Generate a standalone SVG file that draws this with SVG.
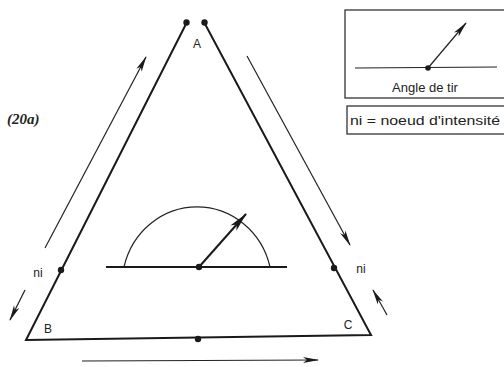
<svg xmlns="http://www.w3.org/2000/svg" width="504" height="367" viewBox="0 0 504 367">
<style>
.ln{stroke:#1a1a1a;stroke-width:2;fill:none}
.th{stroke:#222;stroke-width:1.2;fill:none}
.ar{stroke:#222;stroke-width:1.2;fill:none;marker-end:url(#ah)}
.dot{fill:#1a1a1a}
.t{font-family:"Liberation Sans",Arial,sans-serif;font-size:13px;fill:#222}
.lb{font-family:"Liberation Sans",Arial,sans-serif;font-size:12px;fill:#222}
</style>
<defs>
<marker id="ah" viewBox="0 0 16 8" refX="15" refY="4" markerWidth="16" markerHeight="8" markerUnits="userSpaceOnUse" orient="auto">
<path d="M0,1 L16,4 L0,7 L4,4 Z" fill="#1a1a1a"/>
</marker>
<marker id="ah2" viewBox="0 0 20 10" refX="19" refY="5" markerWidth="20" markerHeight="10" markerUnits="userSpaceOnUse" orient="auto">
<path d="M0,1 L20,5 L0,9 L5,5 Z" fill="#1a1a1a"/>
</marker>
</defs>
<text x="7" y="124" style="font-family:'Liberation Serif',serif;font-style:italic;font-weight:bold;font-size:15px" fill="#222">(20a)</text>
<g id="triangle">
<path class="ln" d="M186.5,23 L26,340 L371,335 L204.5,23"/>
</g>
<g id="nodeA">
<circle class="dot" cx="186.5" cy="22.5" r="3.2"/>
<circle class="dot" cx="204.5" cy="22.5" r="3.2"/>
<text class="lb" x="197" y="48" text-anchor="middle">A</text>
</g>
<g id="nodeB"><text class="lb" x="48" y="333" text-anchor="middle">B</text></g>
<g id="nodeC"><text class="lb" x="348" y="329" text-anchor="middle">C</text></g>
<g id="ni-left">
<circle class="dot" cx="61" cy="270" r="3.2"/>
<text class="lb" x="38" y="277" text-anchor="middle">ni</text>
</g>
<g id="ni-right">
<circle class="dot" cx="334" cy="268" r="3.2"/>
<text class="lb" x="361" y="273" text-anchor="middle">ni</text>
</g>
<g id="bottom-node"><circle class="dot" cx="198" cy="339" r="3.2"/></g>
<g id="angle">
<path class="th" d="M124,267 A75,78 0 0 1 270,267"/>
<line class="ln" x1="106" y1="267" x2="287" y2="267"/>
<line class="ln" x1="199" y1="267" x2="246" y2="214" marker-end="url(#ah2)"/>
<circle class="dot" cx="199" cy="267" r="3.2"/>
</g>
<g id="connectors">
<line class="ar" x1="45" y1="248" x2="146" y2="57"/>
<line class="ar" x1="25" y1="290" x2="10" y2="320"/>
<line class="ar" x1="247" y1="56" x2="350" y2="245"/>
<line class="ar" x1="387" y1="315" x2="373" y2="290"/>
<line class="ar" x1="82" y1="361" x2="318" y2="360"/>
</g>
<g id="legend">
<rect x="345" y="10" width="162" height="88" class="th" stroke-width="1.5"/>
<line class="th" x1="355" y1="68" x2="497" y2="67"/>
<line class="th" x1="428" y1="68" x2="466" y2="23" stroke-width="1.6" marker-end="url(#ah)"/>
<circle class="dot" cx="428" cy="68" r="2.8"/>
<text class="t" x="425" y="92" text-anchor="middle">Angle de tir</text>
<rect x="347" y="106" width="160" height="28" class="th"/>
<text class="t" x="350" y="125" textLength="150" lengthAdjust="spacingAndGlyphs">ni = noeud d'intensité</text>
</g>
</svg>
